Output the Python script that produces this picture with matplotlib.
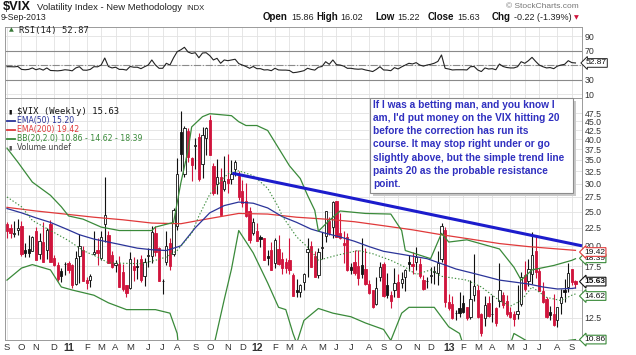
import numpy as np
import pandas as pd
import matplotlib
matplotlib.use('Agg')
import matplotlib.pyplot as plt
from matplotlib.lines import Line2D
from matplotlib.patches import Rectangle
from matplotlib.ticker import NullLocator

# weekly candles of $VIX, Sep 2010 - Sep 2013
opens = [23.0, 22.4, 21.6, 22.2, 22.8, 19.5, 19.6, 19.4, 22.0, 19.0,
         20.5, 19.5, 23.0, 18.5, 17.6, 17.0, 17.8, 17.9, 17.6, 15.6,
         18.7, 19.5, 16.0, 16.0, 19.0, 19.5, 18.5, 23.0, 21.5, 18.9,
         17.6, 17.8, 16.9, 15.5, 15.2, 17.5, 17.5, 18.4, 16.4, 18.7,
         18.7, 21.8, 19.7, 15.9, 18.0, 20.4, 19.0, 22.7, 42.0, 31.9,
         42.3, 35.4, 38.3, 40.6, 34.0, 40.3, 45.5, 33.7, 29.9, 31.3,
         29.0, 31.0, 31.0, 33.0, 31.5, 28.5, 26.8, 25.1, 21.8, 22.0,
         21.2, 21.0, 18.7, 19.5, 17.9, 19.6, 18.4, 18.0, 18.2, 16.5,
         15.0, 14.8, 15.8, 19.2, 20.0, 18.7, 16.5, 19.7, 21.3, 23.5,
         22.6, 26.7, 21.7, 20.4, 21.2, 17.4, 18.0, 17.5, 17.7, 17.2,
         15.6, 15.0, 13.7, 16.3, 17.8, 15.5, 14.5, 15.0, 15.8, 15.7,
         16.3, 18.0, 17.8, 18.0, 17.8, 16.0, 15.9, 16.4, 16.9, 16.8,
         18.4, 22.2, 13.9, 13.7, 12.9, 13.3, 13.8, 13.4, 12.6, 14.5,
         15.0, 12.8, 12.5, 13.8, 12.8, 13.3, 14.0, 14.5, 14.0, 13.0,
         12.8, 12.8, 13.7, 16.5, 15.9, 16.6, 19.3, 17.0, 14.9, 14.1,
         13.0, 12.8, 12.3, 13.8, 15.0, 15.3, 17.2, 15.86]
highs = [23.3, 23.0, 23.5, 23.8, 23.5, 20.4, 21.4, 21.3, 22.6, 21.8,
         23.4, 22.4, 23.6, 18.9, 18.0, 17.3, 18.0, 18.1, 17.8, 19.3,
         21.6, 20.0, 16.3, 16.7, 22.1, 21.1, 22.0, 31.3, 22.0, 19.3,
         18.2, 18.7, 17.8, 15.5, 19.2, 18.6, 18.3, 18.8, 18.5, 19.7,
         22.7, 22.7, 19.9, 16.1, 22.1, 21.0, 25.6, 35.4, 48.0, 43.6,
         43.0, 35.6, 40.3, 41.7, 43.5, 43.5, 46.9, 34.4, 35.3, 33.3,
         36.0, 36.4, 35.0, 35.1, 32.5, 30.7, 30.2, 25.8, 24.0, 23.2,
         21.5, 21.1, 19.5, 20.5, 21.0, 21.5, 19.2, 18.5, 21.1, 16.8,
         16.1, 15.6, 16.8, 21.1, 20.6, 19.4, 19.7, 21.9, 25.1, 24.1,
         26.7, 26.8, 24.8, 22.0, 21.8, 17.9, 19.5, 19.5, 21.0, 19.7,
         16.0, 15.0, 16.3, 18.0, 18.0, 16.8, 14.9, 17.3, 16.6, 16.9,
         17.2, 18.9, 19.2, 19.9, 18.5, 16.5, 16.3, 17.4, 17.5, 19.4,
         23.2, 22.6, 14.6, 14.4, 13.2, 14.8, 14.5, 13.4, 16.0, 19.0,
         15.5, 12.9, 14.4, 14.4, 14.5, 13.4, 17.9, 14.8, 14.5, 13.4,
         13.1, 15.5, 16.9, 18.1, 18.4, 21.9, 21.4, 17.3, 15.8, 14.3,
         13.5, 14.6, 13.4, 15.1, 16.1, 17.9, 17.2, 16.02]
lows = [21.1, 21.0, 21.2, 21.4, 18.7, 18.6, 18.6, 19.3, 18.4, 18.3,
        18.0, 18.3, 18.0, 17.5, 15.9, 15.8, 16.5, 16.8, 15.2, 15.5,
        15.7, 15.9, 15.1, 15.3, 18.8, 17.6, 18.2, 20.5, 17.9, 17.3,
        16.9, 15.3, 14.9, 14.3, 15.1, 15.9, 16.1, 15.8, 15.4, 17.4,
        17.9, 18.7, 15.9, 14.6, 17.7, 17.1, 18.7, 22.2, 32.6, 31.4,
        34.6, 30.6, 32.9, 30.6, 31.1, 36.2, 36.2, 27.8, 28.0, 24.5,
        28.5, 28.3, 30.0, 31.5, 26.9, 25.8, 24.2, 20.4, 21.4, 20.6,
        19.8, 18.2, 17.6, 17.1, 17.3, 17.6, 16.7, 16.8, 16.7, 14.4,
        14.3, 14.3, 15.0, 16.3, 17.4, 16.3, 16.2, 18.4, 20.5, 21.4,
        21.1, 21.2, 20.9, 17.9, 17.0, 16.6, 16.5, 15.5, 16.2, 15.5,
        14.6, 13.3, 13.6, 15.9, 14.3, 14.2, 13.3, 14.3, 14.3, 15.2,
        14.9, 17.0, 16.6, 17.1, 16.2, 15.0, 15.2, 15.7, 15.6, 15.5,
        18.0, 13.4, 13.2, 12.4, 12.3, 12.6, 12.9, 12.3, 12.4, 14.0,
        12.5, 11.1, 11.9, 12.6, 12.2, 11.9, 13.4, 13.3, 12.7, 12.5,
        11.9, 12.4, 13.5, 14.9, 15.4, 15.6, 16.2, 14.9, 13.8, 12.5,
        12.3, 11.9, 11.8, 12.8, 13.9, 14.8, 15.5, 15.22]
closes = [21.99, 21.70, 21.71, 22.50, 18.96, 19.03, 19.08, 21.20, 18.26, 20.61,
          18.04, 22.20, 18.01, 17.61, 16.11, 16.47, 17.75, 17.14, 15.46, 18.47,
          20.04, 15.93, 15.69, 16.43, 19.22, 19.06, 21.13, 24.44, 17.91, 17.40,
          17.87, 15.32, 15.07, 14.75, 18.40, 17.07, 17.43, 15.98, 17.95, 18.86,
          21.85, 19.25, 15.87, 15.95, 20.00, 17.52, 25.25, 32.00, 36.36, 43.05,
          35.59, 33.92, 38.52, 30.98, 41.25, 42.96, 36.20, 28.24, 31.32, 24.53,
          30.50, 30.04, 32.00, 34.47, 27.52, 26.38, 24.29, 20.73, 23.40, 20.63,
          20.91, 18.28, 18.53, 17.10, 20.79, 17.78, 17.31, 17.29, 17.11, 14.47,
          14.82, 15.50, 16.70, 19.55, 17.44, 16.32, 19.16, 19.89, 25.10, 21.76,
          26.66, 21.23, 21.11, 20.11, 17.08, 17.10, 16.74, 16.27, 16.70, 15.64,
          14.74, 13.45, 15.18, 17.47, 14.38, 14.51, 13.98, 15.73, 14.33, 16.14,
          17.06, 17.81, 17.59, 18.61, 16.41, 15.14, 15.87, 16.56, 17.00, 17.84,
          22.72, 13.83, 13.36, 12.46, 12.89, 12.90, 13.02, 12.46, 14.17, 15.36,
          12.59, 11.30, 13.57, 12.70, 12.87, 12.06, 14.97, 13.61, 12.85, 12.59,
          12.45, 13.04, 16.30, 15.14, 17.15, 18.90, 16.86, 14.89, 13.84, 12.54,
          12.72, 11.98, 13.41, 14.37, 14.76, 16.81, 15.85, 15.63]

# RSI(14), one value a week
rsi = [47.7, 47.7, 47.5, 48.0, 44.0, 43.5, 44.0, 46.0, 43.5, 45.0,
       43.0, 46.0, 42.5, 42.3, 42.0, 42.5, 43.5, 43.0, 42.0, 46.0,
       47.7, 43.0, 42.8, 44.0, 47.7, 47.5, 50.0, 59.7, 48.0, 46.0,
       47.0, 44.0, 44.0, 43.0, 48.0, 47.0, 47.0, 45.0, 47.7, 50.0,
       57.0, 50.0, 45.5, 45.5, 52.4, 50.0, 60.0, 68.4, 71.0, 74.5,
       68.0, 66.0, 67.0, 60.0, 66.6, 67.0, 63.0, 57.0, 59.3, 52.4,
       57.0, 56.0, 57.0, 58.0, 52.0, 50.0, 48.0, 45.5, 48.0, 45.0,
       45.0, 43.2, 43.5, 42.2, 45.5, 43.2, 43.0, 43.0, 42.5, 39.4,
       40.0, 41.0, 42.2, 45.5, 44.0, 43.0, 47.0, 48.0, 54.6, 51.0,
       57.0, 50.5, 50.0, 48.5, 45.5, 45.5, 44.6, 44.2, 44.6, 43.2,
       42.2, 41.0, 44.0, 47.7, 43.2, 43.0, 42.2, 46.4, 44.6, 47.5,
       50.0, 52.4, 51.5, 53.3, 50.0, 48.5, 50.0, 51.0, 52.5, 55.0,
       63.9, 45.5, 44.5, 43.2, 43.5, 43.5, 43.5, 43.2, 47.7, 48.0,
       43.2, 41.0, 46.0, 44.5, 45.0, 43.5, 51.4, 48.0, 46.6, 46.0,
       46.0, 47.7, 54.6, 52.4, 56.0, 60.6, 55.0, 50.0, 47.7, 46.0,
       46.5, 45.0, 48.5, 50.0, 51.0, 56.0, 53.3, 52.87]

# overlay lines, read at the weeks given
ema50_wk = list(range(0, 157, 4)) + [157]
ema50 = [25.5, 24.8, 24.0, 23.3, 22.4, 21.5, 20.9, 20.5, 20.1, 19.7,
         19.5, 19.4, 20.0, 22.5, 24.8, 26.0, 26.6, 26.4, 25.6, 24.2,
         23.3, 22.3, 21.7, 21.2, 20.6, 19.9, 19.3, 19.0, 18.7, 18.4,
         17.8, 17.2, 16.8, 16.4, 16.0, 15.8, 15.6, 15.3, 15.1, 15.15, 15.20]
ema200_wk = list(range(0, 153, 8)) + [157]
ema200 = [25.7, 25.1, 24.6, 24.1, 23.7, 23.2, 23.1, 23.9, 24.7, 24.6,
          24.1, 23.8, 23.4, 22.8, 22.2, 21.5, 20.9, 20.3, 19.9, 19.6, 19.42]
bb_up_wk = [0, 3, 7, 12, 15, 17, 21, 26, 31, 40, 41, 46, 48, 50, 51,
            54, 56, 62, 64, 66, 69, 72, 75, 78, 81, 83, 85, 86, 89, 92,
            99, 106, 109, 110, 117, 120, 122, 127, 136, 140, 142, 145, 151, 156, 157]
bb_up = [37.8, 34.5, 30.3, 27.8, 25.8, 24.3, 23.8, 22.6, 22.1, 22.1, 22.6, 23.3, 30.1, 37.3, 43.4,
         46.4, 47.3, 46.7, 44.9, 43.8, 43.8, 42.4, 37.8, 33.7, 31.0, 27.8, 25.2, 22.0, 23.6, 25.1,
         24.7, 24.6, 22.1, 19.4, 18.4, 21.7, 20.5, 20.8, 19.6, 17.4, 16.0, 17.1, 17.6, 18.2, 18.39]
bb_mid_wk = [0, 4, 7, 12, 17, 21, 25, 28, 37, 41, 44, 47, 51, 53, 56, 61, 64, 68, 72, 75,
             76, 80, 84, 86, 91, 97, 101, 106, 110, 113, 117, 120, 127, 131, 136, 139, 142,
             145, 149, 153, 156, 157]
bb_mid = [27.5, 25.8, 23.6, 22.1, 20.7, 19.4, 18.6, 17.9, 17.8, 18.2, 18.6, 19.4, 21.7, 24.3,
          28.0, 32.0, 32.6, 31.6, 29.1, 25.7, 24.3, 21.2, 19.4, 18.2, 18.8, 19.4, 19.0, 18.2,
          17.4, 16.6, 17.1, 16.4, 16.0, 15.3, 14.0, 13.5, 14.0, 15.3, 14.3, 14.0, 14.5, 14.62]
bb_low_wk = [0, 4, 7, 12, 15, 18, 24, 28, 33, 41, 45, 47, 48, 50, 55, 57, 60, 62, 64, 68,
             72, 75, 77, 79, 80, 82, 86, 90, 95, 99, 104, 106, 109, 111, 118, 122, 125, 128,
             136, 140, 142, 144, 146, 150, 154, 155, 157]
bb_low = [16.0, 17.3, 17.7, 17.1, 15.3, 15.0, 14.5, 13.8, 13.2, 13.2, 12.9, 11.3, 9.0, 3.0,
          3.0, 10.3, 14.1, 17.2, 22.1, 19.1, 15.7, 13.4, 13.2, 11.3, 10.6, 12.3, 13.3, 12.9,
          12.6, 12.1, 11.6, 10.8, 12.9, 13.4, 13.4, 11.8, 11.3, 9.0, 8.5, 11.3, 11.0, 10.7,
          10.3, 10.0, 10.4, 10.8, 10.86]
trend_wk = [62.2, 158.8]
trend_val = [32.1, 20.0]

note = ["If I was a betting man, and you know I",
        "am, I'd put money on the VIX hitting 20",
        "before the correction has run its",
        "course. It may stop right under or go",
        "slightly above, but the simple trend line",
        "paints 20 as the probable resistance",
        "point."]

weeks = pd.date_range('2010-09-06', periods=len(closes), freq='W-MON')
n = len(closes)
idx = np.arange(n)

RED = '#d0143c'
BLUE_EMA = '#2b3499'
RED_EMA = '#e0393a'
GREEN = '#3a8a3a'
SANS = 'Liberation Sans'
LEG = 'DejaVu Sans'
MONO = 'DejaVu Sans Mono'

W, H = 636, 355
fig = plt.figure(figsize=(W / 100, H / 100), dpi=100)
fig.patch.set_facecolor('white')
rend = fig.canvas.get_renderer()

def fx(px):
    return px / W

def fy(py):
    return 1 - py / H

L, R = 5, 582
ax_rsi = fig.add_axes([fx(L), fy(98), fx(R - L), (98 - 27) / H])
ax = fig.add_axes([fx(L), fy(340), fx(R - L), (340 - 98) / H])

# month ticks
mpos, mlab, myear = [], [], []
for i, d in enumerate(weeks):
    if i == 0 or d.month != weeks[i - 1].month:
        mpos.append(i)
        if d.month == 1:
            mlab.append(d.strftime('%y'))
            myear.append(True)
        else:
            mlab.append('JFMAMJJASOND'[d.month - 1])
            myear.append(False)

for a in (ax_rsi, ax):
    a.set_xlim(-0.55, 158.8)
    a.set_xticks(mpos)
    a.grid(True, color='#e2e2e2', lw=0.6)
    a.set_axisbelow(True)
    for s in a.spines.values():
        s.set_color('#9a9a9a')
        s.set_linewidth(0.7)
    a.tick_params(length=0)
    a.yaxis.tick_right()

# ---- RSI panel
ax_rsi.set_ylim(4.5, 102.5)
ax_rsi.set_yticks([10, 30, 50, 70, 90])
ax_rsi.set_yticklabels(['10', '30', '', '70', '90'], fontsize=6.3, family=SANS, color='#333333')
ax_rsi.tick_params(axis='y', pad=2)
ax_rsi.set_xticklabels([])
ax_rsi.axhline(70, color='#8a8a8a', lw=0.8)
ax_rsi.axhline(30, color='#8a8a8a', lw=0.8)
ax_rsi.axhline(50, color='#8a8a8a', lw=0.8, ls='-.')
ax_rsi.plot(idx, rsi, color='#222222', lw=0.8)
ax_rsi.text(1.006, rsi[-1], '%.2f' % rsi[-1], transform=ax_rsi.get_yaxis_transform(),
            fontsize=6.0, family=SANS, va='center', ha='left', color='#111111',
            bbox=dict(boxstyle='larrow,pad=0.1', fc='white', ec='#222222', lw=0.7))
fig.text(fx(19), fy(30), 'RSI(14) 52.87', fontsize=6.4, family=MONO, va='center',
         ha='left', color='#222222')
fig.text(fx(9), fy(30), '▲', fontsize=4.5, color='#3a7a3a', va='center')

# ---- price panel
ax.set_yscale('log')
ax.set_ylim(10.83, 52.4)
yt = [12.5, 15, 17.5, 20, 22.5, 25, 27.5, 30, 32.5, 35, 37.5, 40, 42.5, 45, 47.5]
ax.set_yticks(yt)
ax.yaxis.set_minor_locator(NullLocator())
ylabs = ['%.1f' % v for v in yt]
ylabs[1] = ''          # hidden under the value tags
ax.set_yticklabels(ylabs, fontsize=6.3, family=SANS, color='#333333')
ax.tick_params(axis='y', pad=2)
ax.set_xticklabels(mlab, fontsize=6.8, family=SANS, color='#333333')
ax.tick_params(axis='x', pad=2)
for t, yr in zip(ax.get_xticklabels(), myear):
    if yr:
        t.set_fontweight('bold')
        t.set_fontsize(7.5)

# candles
prev = opens[0]
for i in idx:
    o, h, l, c = opens[i], highs[i], lows[i], closes[i]
    col = '#111111' if c >= prev else RED
    ax.vlines(i, l, h, color=col, lw=0.8, zorder=3)
    fill = 'white' if c > o else col
    ax.bar(i, max(abs(c - o), 0.05), bottom=min(o, c), width=0.62,
           color=fill, edgecolor=col, lw=0.6, zorder=4)
    prev = c

ax.plot(ema200_wk, ema200, color=RED_EMA, lw=0.9, zorder=5)
ax.plot(ema50_wk, ema50, color=BLUE_EMA, lw=0.9, zorder=5)
ax.plot(bb_up_wk, bb_up, color=GREEN, lw=0.9, zorder=5)
ax.plot(bb_low_wk, bb_low, color=GREEN, lw=0.9, zorder=5)
ax.plot(bb_mid_wk, bb_mid, color=GREEN, lw=0.8, ls=(0, (1.2, 1.8)), zorder=5)
ax.plot(trend_wk, trend_val, color='#1c1ccc', lw=2.2, zorder=6, solid_capstyle='butt',
        clip_on=False)

# value tags on the right (small nudges keep them apart)
ytr = ax.get_yaxis_transform()
tags = [(bb_up[-1], GREEN, False, 0.3), (ema200[-1], RED_EMA, False, -1.2),
        (bb_low[-1], GREEN, False, 0), (bb_mid[-1], GREEN, False, -1.5),
        (closes[-1], '#111111', True, 1.5)]
for k, (v, col, bold, dy) in enumerate(tags):
    ax.annotate('%.2f' % v, xy=(1.0, v), xycoords=ytr, xytext=(1.5, dy),
                textcoords='offset points', fontsize=6.0, family=SANS,
                fontweight='bold' if bold else 'normal', va='center', ha='left',
                color='#111111', zorder=10 + k, annotation_clip=False,
                bbox=dict(boxstyle='larrow,pad=0.1', fc='white', ec=col, lw=0.8))

# legend block
lx = fx(17)
fig.text(lx, fy(112), '$VIX (Weekly) 15.63', fontsize=6.4, family=MONO, color='#111111', va='center')
leg = [('EMA(50) 15.20', BLUE_EMA, 121), ('EMA(200) 19.42', RED_EMA, 130),
       ('BB(20,2.0) 10.86 - 14.62 - 18.39', GREEN, 139)]
for txt, col, yy in leg:
    fig.add_artist(Line2D([fx(7), fx(15)], [fy(yy), fy(yy)], color=col, lw=1.3,
                          transform=fig.transFigure))
    fig.text(lx, fy(yy), txt, fontsize=5.6, family=LEG, color=col, va='center')
fig.text(lx, fy(148), 'Volume undef', fontsize=5.6, family=LEG, color='#444444', va='center')
fig.text(fx(8), fy(148), '▮', fontsize=4.5, color='#555555', va='center')
fig.text(fx(8), fy(112), '▮', fontsize=4.5, color='#111111', va='center')

# note box
fig.add_artist(Rectangle((fx(373), fy(196)), fx(203), (196 - 101) / H, transform=fig.transFigure,
                         fc='#c9c9c9', ec='none', zorder=20))
fig.add_artist(Rectangle((fx(370), fy(193)), fx(203), (193 - 98) / H, transform=fig.transFigure,
                         fc='white', ec='#8c8c8c', lw=0.8, zorder=21))
for k, line in enumerate(note):
    t = fig.text(fx(373), fy(104.5 + k * 13.3), line, fontsize=7.3, fontweight='bold',
                 family=SANS, color='#3030c0', va='center', ha='left')
    t.set_zorder(22)

# header
fig.text(fx(3), fy(7), '$VIX', fontsize=9.3, fontweight='bold', family=SANS, color='#111111', va='center')
fig.text(fx(37), fy(8), 'Volatility Index - New Methodology', fontsize=6.8, family=SANS,
         color='#222222', va='center')
fig.text(fx(186), fy(8), 'INDX', fontsize=5.5, family=SANS, color='#222222', va='center')
fig.text(fx(1), fy(18), '9-Sep-2013', fontsize=6.3, family=SANS, color='#222222', va='center')
fig.text(fx(579), fy(7), '© StockCharts.com', fontsize=6, family=SANS, color='#777777',
         va='center', ha='right')

hdr = [(263, 'Open', '15.86'), (316, 'High', '16.02'), (375, 'Low', '15.22'),
       (428, 'Close', '15.63'), (492, 'Chg', '-0.22 (-1.39%)')]
for x0, lab, val in hdr:
    t = fig.text(fx(x0), fy(17.5), lab, fontsize=7, fontweight='bold', family=SANS,
                 color='#111111', va='center')
    bb = t.get_window_extent(renderer=rend)
    fig.text(fx(bb.x1 + 3), fy(17.5), val, fontsize=6.5, family=SANS,
             color='#222222', va='center')
fig.text(fx(574), fy(17.5), '▼', fontsize=4.5, color=RED, va='center')

fig.savefig('out.png', dpi=100, facecolor='white')
